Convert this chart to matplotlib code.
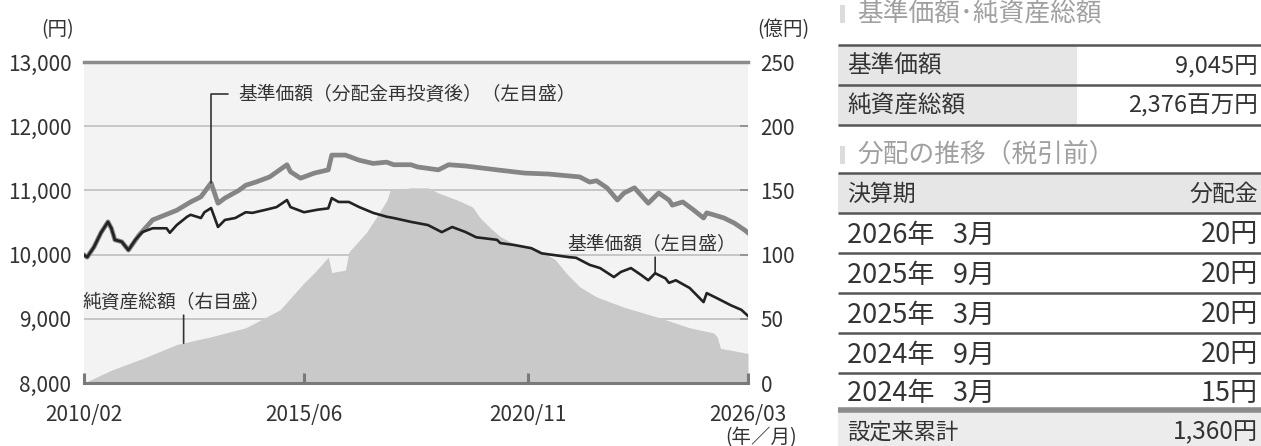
import matplotlib
matplotlib.use("Agg")
import matplotlib.pyplot as plt
from matplotlib.patches import Rectangle
import pandas as pd

plt.rcParams["font.family"] = ["Noto Sans CJK JP", "DejaVu Sans"]

# 基準価額 (left axis, yen)
nav_dates = [
    "2010-02", "2010-03", "2010-05", "2010-07", "2010-09", "2010-10", "2010-11",
    "2011-01", "2011-03", "2011-05", "2011-07", "2011-10", "2012-02", "2012-03",
    "2012-05", "2012-08", "2012-09", "2012-12", "2013-01", "2013-03", "2013-05",
    "2013-07", "2013-10", "2014-01", "2014-03", "2014-07", "2014-10", "2015-01",
    "2015-02", "2015-06", "2015-10", "2016-01", "2016-02", "2016-04", "2016-07",
    "2016-10", "2017-02", "2017-06", "2017-08", "2018-01", "2018-06", "2018-10",
    "2019-01", "2019-05", "2019-08", "2020-02", "2020-03", "2020-07", "2020-12",
    "2021-03", "2021-07", "2021-11", "2022-01", "2022-05", "2022-08", "2022-12",
    "2023-02", "2023-05", "2023-08", "2023-10", "2023-12", "2024-03", "2024-04",
    "2024-06", "2024-10", "2025-02", "2025-03", "2025-06", "2025-10", "2026-01",
    "2026-02", "2026-03",
]
nav_values = [
    9994, 9960, 10120, 10340, 10510, 10410, 10230,
    10200, 10070, 10230, 10350, 10410, 10410, 10340,
    10460, 10590, 10620, 10570, 10660, 10725, 10430,
    10540, 10570, 10660, 10650, 10700, 10740, 10850,
    10740, 10660, 10700, 10720, 10880, 10820, 10820,
    10740, 10650, 10590, 10570, 10510, 10460, 10350,
    10430, 10350, 10270, 10230, 10180, 10150, 10100,
    10020, 9990, 9960, 9950, 9840, 9790, 9650,
    9730, 9790, 9680, 9600, 9710, 9630, 9560,
    9600, 9480, 9260, 9400, 9320, 9210, 9140,
    9090, 9045,
]

# 基準価額（分配金再投資後） (left axis, yen)
reinv_dates = [
    "2010-02", "2010-03", "2010-05", "2010-07", "2010-09", "2010-10", "2010-11",
    "2011-01", "2011-03", "2011-06", "2011-10", "2012-05", "2012-09", "2012-12",
    "2013-03", "2013-05", "2013-07", "2013-11", "2014-01", "2014-04", "2014-08",
    "2015-01", "2015-02", "2015-05", "2015-09", "2016-01", "2016-02", "2016-06",
    "2016-10", "2017-02", "2017-06", "2017-08", "2018-01", "2018-03", "2018-09",
    "2018-12", "2019-05", "2020-02", "2020-10", "2021-05", "2021-11", "2022-02",
    "2022-05", "2022-07", "2022-10", "2023-01", "2023-03", "2023-06", "2023-10",
    "2024-01", "2024-04", "2024-05", "2024-08", "2024-11", "2025-02", "2025-03",
    "2025-05", "2025-08", "2025-11", "2026-02", "2026-03",
]
reinv_values = [
    9994, 9960, 10120, 10340, 10510, 10410, 10230,
    10200, 10070, 10300, 10540, 10690, 10820, 10900,
    11115, 10800, 10880, 11000, 11080, 11130, 11210,
    11400, 11290, 11190, 11270, 11320, 11550, 11550,
    11470, 11420, 11440, 11400, 11400, 11365, 11320,
    11400, 11380, 11320, 11270, 11255, 11225, 11210,
    11130, 11150, 11040, 10850, 10960, 11040, 10800,
    10960, 10850, 10770, 10820, 10700, 10570, 10650,
    10620, 10570, 10490, 10380, 10340,
]

# 純資産総額 (right axis, 億円)
assets_dates = [
    "2010-02", "2010-10", "2011-08", "2012-05", "2013-03", "2014-01", "2014-11",
    "2015-06", "2015-09", "2016-01", "2016-02", "2016-06", "2016-07", "2016-12",
    "2017-03", "2017-06", "2017-07", "2018-01", "2018-06", "2018-09", "2019-03",
    "2019-07", "2019-09", "2019-12", "2020-03", "2020-08", "2021-02", "2021-07",
    "2021-10", "2022-02", "2022-07", "2023-03", "2024-01", "2024-10", "2025-05",
    "2025-06", "2025-07", "2026-03",
]
assets_values = [
    0, 10, 20, 30, 36, 43, 57,
    78, 86, 98, 86, 88, 102, 117,
    129, 142, 150, 152, 152, 148, 142,
    137, 129, 121, 114, 107, 104, 96,
    86, 75, 67, 59, 51, 43, 39,
    36, 27, 23,
]

x_ticks = ["2010-02", "2015-06", "2020-11", "2026-03"]
x_tick_labels = ["2010/02", "2015/06", "2020/11", "2026/03"]
left_ticks = [8000, 9000, 10000, 11000, 12000, 13000]
right_ticks = [0, 50, 100, 150, 200, 250]

summary_labels = ["基準価額", "純資産総額"]
summary_values = ["9,045円", "2,376百万円"]
dist_periods = ["2026年   3月", "2025年   9月", "2025年   3月", "2024年   9月", "2024年   3月"]
dist_amounts = ["20円", "20円", "20円", "20円", "15円"]
total_label = "設定来累計"
total_value = "1,360円"

W, H = 1261, 446
fig = plt.figure(figsize=(W / 100, H / 100), dpi=100)

ax = fig.add_axes([84 / W, 63 / H, 664 / W, 321 / H])
ax2 = ax.twinx()
ax.set_zorder(2)
ax2.set_zorder(1)
ax.patch.set_visible(False)
ax2.patch.set_visible(True)
ax2.set_facecolor("#f3f3f3")

to_dt = lambda d: pd.to_datetime(d)

# background layer: grid + net assets area
ax2.set_axisbelow(True)
ax2.yaxis.grid(True, color="#c6c6c6", lw=1.4)
ax2.fill_between(to_dt(assets_dates), assets_values, 0, color="#c9c9c9", lw=0, zorder=2)
ax2.set_ylim(0, 250)
ax2.set_yticks(right_ticks)
ax2.tick_params(axis="y", direction="in", length=6, width=1.2, color="#8a8a8a",
                pad=9, labelsize=15, labelcolor="#333333")
for s in ax2.spines.values():
    s.set_visible(False)

# front layer: lines
ax.plot(to_dt(reinv_dates), reinv_values, color="#858585", lw=3.4, zorder=3,
        solid_joinstyle="round")
ax.plot(to_dt(nav_dates), nav_values, color="#222222", lw=1.9, zorder=4,
        solid_joinstyle="round")
ax.set_ylim(8000, 13000)
ax.set_yticks(left_ticks)
ax.set_yticklabels([f"{v:,}" for v in left_ticks])
ax.tick_params(axis="y", length=0, pad=9, labelsize=15, labelcolor="#333333")

ax.set_xlim(to_dt("2010-02"), to_dt("2026-03"))
ax.set_xticks(to_dt(x_ticks))
ax.set_xticklabels(x_tick_labels)
ax.tick_params(axis="x", direction="in", length=7, width=2.2, color="#7a7a7a",
               pad=15, labelsize=15, labelcolor="#333333")

for side in ["left", "right"]:
    ax.spines[side].set_visible(False)
ax.spines["top"].set_color("#8c8c8c")
ax.spines["top"].set_linewidth(2.5)
ax.spines["bottom"].set_color("#7a7a7a")
ax.spines["bottom"].set_linewidth(2.2)

# annotations
line_kw = dict(arrowstyle="-", color="#333333", lw=1.2, shrinkA=0, shrinkB=0)
ax.annotate("基準価額（分配金再投資後）（左目盛）", xy=(to_dt("2013-03"), 11115),
            xytext=(27, 89), textcoords="offset pixels", ha="left", va="center",
            fontsize=13.5, color="#333333",
            arrowprops=dict(line_kw, connectionstyle="angle,angleA=180,angleB=90,rad=0",
                            relpos=(0, 0.5), shrinkA=5))
ax.annotate("", xy=(to_dt("2023-12"), 9710), xytext=(0, 16),
            textcoords="offset pixels", arrowprops=line_kw)
ax.annotate("基準価額（左目盛）", xy=(to_dt("2023-12"), 9710), xytext=(-3, 30),
            textcoords="offset pixels", ha="center", va="center",
            fontsize=13.5, color="#333333")
ax2.annotate("", xy=(to_dt("2012-07"), 31), xytext=(0, 28),
             textcoords="offset pixels", arrowprops=line_kw)
ax2.annotate("純資産総額（右目盛）", xy=(to_dt("2012-07"), 31), xytext=(-7, 41),
             textcoords="offset pixels", ha="center", va="center",
             fontsize=13.5, color="#333333")

# overlay in pixel coordinates for units and table
tab = fig.add_axes([0, 0, 1, 1], zorder=5)
tab.set_xlim(0, W)
tab.set_ylim(H, 0)
tab.axis("off")
tab.patch.set_visible(False)

tab.text(58, 30, "(円)", ha="center", va="center", fontsize=14, color="#333333")
tab.text(757, 30, "(億円)", ha="left", va="center", fontsize=14, color="#333333")
tab.text(797, 438, "(年／月)", ha="right", va="center", fontsize=14, color="#333333")

x0, x1, xmid = 838, 1261, 1077
dark = "#555555"
head_color = "#a0a0a0"
txt = "#333333"


def section_header(y, label):
    tab.add_patch(Rectangle((840, y - 9), 5, 18, color="#dcdcdc", lw=0))
    tab.text(857, y, label, ha="left", va="center", fontsize=18.5, color=head_color)


def hline(y, lw=1.8, color=dark):
    tab.plot([x0, x1], [y, y], color=color, lw=lw, solid_capstyle="butt")


section_header(14, "基準価額･純資産総額")
for i, (lab, val) in enumerate(zip(summary_labels, summary_values)):
    top = 45 + 40 * i
    tab.add_patch(Rectangle((x0, top), xmid - x0, 40, color="#e6e6e6", lw=0))
    tab.text(847, top + 21, lab, ha="left", va="center", fontsize=17, color=txt)
    tab.text(1258, top + 21, val, ha="right", va="center", fontsize=17, color=txt)
for y in [45, 85, 125]:
    hline(y)

section_header(155, "分配の推移（税引前）")
tab.add_patch(Rectangle((x0, 173), x1 - x0, 40, color="#e6e6e6", lw=0))
tab.text(847, 194, "決算期", ha="left", va="center", fontsize=16.5, color=txt)
tab.text(1258, 194, "分配金", ha="right", va="center", fontsize=16.5, color=txt)
row_tops = [213, 253, 293, 333, 373]
row_bottoms = [253, 293, 333, 373, 410]
for top, bot, per, amt in zip(row_tops, row_bottoms, dist_periods, dist_amounts):
    yc = (top + bot) / 2 + 2
    tab.text(847, yc, per, ha="left", va="center", fontsize=19.5, color=txt)
    tab.text(1258, yc, amt, ha="right", va="center", fontsize=19.5, color=txt)
for y in [173, 213, 253, 293, 333, 373]:
    hline(y)
tab.add_patch(Rectangle((x0, 412), x1 - x0, 40, color="#ececec", lw=0))
hline(410, lw=4, color="#8c8c8c")
tab.text(847, 432, total_label, ha="left", va="center", fontsize=16, color=txt)
tab.text(1258, 432, total_value, ha="right", va="center", fontsize=17.5, color=txt)

fig.savefig("out.png", dpi=100, facecolor="white")
